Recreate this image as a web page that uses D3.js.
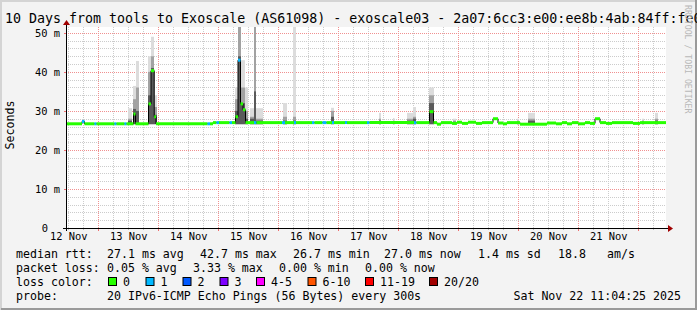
<!DOCTYPE html>
<html>
<head>
<meta charset="utf-8">
<script src="https://cdn.jsdelivr.net/npm/d3@7"></script>
<style>
body { margin: 0; background: #f3f3f3; }
svg { display: block; }
text { font-family: "DejaVu Sans Mono", monospace; fill: #000; }
</style>
</head>
<body>
<div id="chart"></div>
<script>
// window: 10 days ending Sat Nov 22 11:04:25 2025
const startMs = Date.UTC(2025, 10, 12, 11, 4, 25);
const spanHours = 240;

// median rtt, step series: hours since window start, ms, lost pings (of 20)
const medianHour = [0, 6.4, 7.4, 11.4, 12.2, 19.4, 20.2, 23.4, 24.2, 27.0, 27.8, 33.0, 34.0, 35.3, 36.0,
  56.6, 57.6, 58.8, 60.2, 61.2, 65.4, 66.4, 67.8, 68.8, 69.8, 70.8, 71.8, 75.2, 76.2, 86.4, 87.6,
  91.2, 92.0, 98.4, 99.4, 102.6, 104.2, 106.4, 107.2, 111.6, 112.4, 120.4, 121.4, 139.2, 140.2,
  145.4, 147.0, 148.4, 150.0, 154.4, 156.4, 158.4, 160.8, 164.0, 166.4, 170.8, 172.8, 174.8, 176.4,
  181.6, 192.4, 196.0, 198.4, 200.4, 202.4, 204.8, 207.6, 209.6, 211.6, 213.6, 216.0, 218.4, 226.8, 229.6];
const medianMs = [26.7, 27.3, 26.7, 26.7, 26.7, 26.7, 26.7, 26.7, 26.7, 29.2, 26.7, 31.8, 40.3, 28.5, 26.7,
  26.7, 26.7, 27.0, 27.0, 27.0, 27.0, 27.0, 28.5, 43.0, 31.8, 30.3, 27.0, 27.0, 27.0, 27.0, 27.0,
  27.0, 27.0, 27.0, 27.0, 27.0, 27.0, 27.0, 27.0, 27.0, 27.0, 27.0, 27.0, 27.0, 27.0,
  29.8, 27.0, 26.6, 27.0, 26.8, 27.1, 26.8, 27.1, 26.8, 27.0, 28.0, 26.9, 26.7, 27.0,
  26.6, 26.9, 26.7, 27.0, 26.7, 27.0, 26.7, 27.0, 26.8, 28.0, 27.0, 26.8, 27.0, 26.8, 27.0];
const medianLoss = [0, 1, 0, 1, 0, 1, 0, 1, 0, 0, 0, 0, 0, 0, 0,
  1, 0, 0, 1, 0, 1, 0, 0, 1, 0, 0, 0, 1, 0, 1, 0,
  1, 0, 1, 0, 1, 0, 1, 0, 1, 0, 1, 0, 1, 0,
  0, 0, 0, 0, 0, 0, 0, 0, 0, 0, 0, 0, 0, 0,
  0, 0, 0, 0, 0, 0, 0, 0, 0, 0, 0, 0, 0, 0, 0];

// smoke: time span (hours), max ping, top of medium band, top of dense band (ms)
const smokeFrom = [24.8, 26.8, 28.0, 32.8, 34.0, 35.2, 67.6, 68.8, 70.0, 71.6, 73.6, 75.2, 76.0,
  86.8, 90.8, 106.0, 125.2, 130.8, 136.4, 138.8, 145.2, 154.8, 180.4, 184.8, 230.4, 235.6];
const smokeTo = [26.4, 28.0, 29.2, 34.0, 35.2, 36.4, 68.8, 70.0, 71.6, 72.8, 75.2, 76.0, 78.8,
  88.4, 92.0, 107.2, 126.0, 131.4, 138.8, 140.0, 147.2, 156.0, 181.2, 187.6, 231.2, 236.8];
const smokeMax = [30.7, 36.4, 42.8, 44.0, 49.0, 34.0, 36.0, 52.0, 43.0, 36.0, 30.7, 52.0, 30.7,
  32.0, 52.0, 30.8, 29.5, 28.2, 29.5, 31.0, 36.0, 28.0, 28.0, 29.5, 28.0, 29.5];
const smokeMid = [28.0, 33.0, 36.0, 40.0, 44.0, 31.0, 33.0, 52.0, 36.0, 30.0, 28.5, 52.0, 28.0,
  28.5, 28.5, 30.0, 28.0, 27.5, 28.0, 28.5, 34.0, 27.5, 27.5, 28.0, 27.5, 28.0];
const smokeCore = [27.5, 30.5, 30.0, 34.0, 41.0, 29.0, 30.0, 44.0, 32.0, 28.0, 28.0, 35.0, 27.5,
  27.5, 27.5, 28.5, 27.5, 27.2, 27.5, 28.0, 32.0, 27.2, 27.2, 27.5, 27.2, 27.5];

const yTicks = [0, 10, 20, 30, 40, 50];
const lossLabels = ["0", "1", "2", "3", "4-5", "6-10", "11-19", "20/20"];
const lossColors = ["#26ff00", "#00b8ff", "#0059ff", "#7e00ff", "#ff00ff", "#ff5500", "#ff0000", "#a10000"];
const rttStats = [27.1, 42.7, 26.7, 27.0, 1.4, 18.8];   // avg, max, min, now, sd, am/s
const lossStats = [0.05, 3.33, 0.00, 0.00];             // avg, max, min, now

const W = 697, H = 310;
const plotL = 66, plotR = 666, plotT = 27, plotB = 228;

const hourToDate = h => new Date(startMs + h * 3600e3);
const endDate = hourToDate(spanHours);

const x = d3.scaleUtc().domain([hourToDate(0), endDate]).range([plotL, plotR]);
const y = d3.scaleLinear().domain([0, 51.5]).range([plotB, plotT]);

const svg = d3.select("#chart").append("svg")
  .attr("width", W).attr("height", H);

// background + frame
svg.append("rect").attr("width", W).attr("height", H).attr("fill", "#f3f3f3");
svg.append("path").attr("d", `M1,${H} V1 H${W}`).attr("fill", "none").attr("stroke", "#d4d4d4").attr("stroke-width", 2);
svg.append("path").attr("d", `M1,${H - 1} H${W - 1} V0`).attr("fill", "none").attr("stroke", "#9a9a9a").attr("stroke-width", 2);
svg.append("rect").attr("x", plotL).attr("y", plotT).attr("width", plotR - plotL).attr("height", plotB - plotT).attr("fill", "#fff");

// grid
const grid = svg.append("g");
const minorY = d3.range(2, 52, 2).filter(v => v % 10 !== 0);
grid.selectAll(".gy").data(minorY).enter().append("line")
  .attr("x1", plotL).attr("x2", plotR)
  .attr("y1", d => Math.round(y(d)) + 0.5).attr("y2", d => Math.round(y(d)) + 0.5)
  .attr("stroke", "#cccccc").attr("stroke-dasharray", "1,1");
const hours6 = d3.utcHour.every(6).range(hourToDate(0), endDate).filter(d => d.getUTCHours() !== 0);
grid.selectAll(".gx").data(hours6).enter().append("line")
  .attr("y1", plotT).attr("y2", plotB)
  .attr("x1", d => Math.round(x(d)) + 0.5).attr("x2", d => Math.round(x(d)) + 0.5)
  .attr("stroke", "#cccccc").attr("stroke-dasharray", "1,1");
grid.selectAll(".my").data(yTicks.slice(1)).enter().append("line")
  .attr("x1", plotL).attr("x2", plotR)
  .attr("y1", d => Math.round(y(d)) + 0.5).attr("y2", d => Math.round(y(d)) + 0.5)
  .attr("stroke", "#f09090").attr("stroke-dasharray", "1,1");
const days = d3.utcDay.range(hourToDate(0), endDate);
grid.selectAll(".mx").data(days).enter().append("line")
  .attr("y1", plotT).attr("y2", plotB)
  .attr("x1", d => Math.round(x(d)) + 0.5).attr("x2", d => Math.round(x(d)) + 0.5)
  .attr("stroke", "#f09090").attr("stroke-dasharray", "1,1");

// smoke
const smoke = smokeFrom.map((f, i) => ({
  x0: x(hourToDate(f)), x1: x(hourToDate(smokeTo[i])),
  max: smokeMax[i], mid: smokeMid[i], core: smokeCore[i]
}));
const smokeBase = 26.6;
const bands = [["max", "#dcdcdc"], ["mid", "#a2a2a2"], ["core", "#5a5a5a"]];
bands.forEach(([key, col]) => {
  svg.append("g").selectAll("rect").data(smoke).enter().append("rect")
    .attr("x", d => d.x0)
    .attr("width", d => Math.max(1, d.x1 - d.x0))
    .attr("y", d => Math.max(plotT, y(d[key])))
    .attr("height", d => y(smokeBase) - Math.max(plotT, y(d[key])))
    .attr("fill", col);
});

// median line
const med = medianHour.map((h, i) => ({
  t0: hourToDate(h),
  t1: hourToDate(i + 1 < medianHour.length ? medianHour[i + 1] : spanHours),
  v: medianMs[i], loss: medianLoss[i]
}));
const line = d3.line().x(d => x(d.t0)).y(d => y(d.v)).curve(d3.curveStepAfter);
svg.append("path")
  .datum(med.concat([{ t0: endDate, v: medianMs[medianMs.length - 1] }]))
  .attr("d", line).attr("fill", "none").attr("stroke", "#000").attr("stroke-width", 1);
svg.append("g").selectAll("line").data(med).enter().append("line")
  .attr("x1", d => x(d.t0)).attr("x2", d => x(d.t1))
  .attr("y1", d => y(d.v)).attr("y2", d => y(d.v))
  .attr("stroke", d => lossColors[d.loss]).attr("stroke-width", 3);

// axes (labels via d3 axes, lines drawn rrdtool style)
const noons = [d3.utcDay.floor(hourToDate(0))].concat(days).map(d => d3.utcHour.offset(d, 12))
  .filter(d => d >= hourToDate(0) && d <= endDate);
const xAxis = svg.append("g").attr("transform", `translate(0,${plotB})`)
  .call(d3.axisBottom(x).tickValues(noons).tickSize(0).tickPadding(5).tickFormat(d3.utcFormat("%d Nov")));
xAxis.select(".domain").remove();
xAxis.selectAll("text").attr("font-family", "DejaVu Sans Mono").attr("font-size", 10.4).attr("fill", "#000");

const yAxis = svg.append("g").attr("transform", `translate(${plotL},0)`)
  .call(d3.axisLeft(y).tickValues(yTicks).tickSize(0).tickPadding(6).tickFormat(d => d ? d + " m" : "0"));
yAxis.select(".domain").remove();
yAxis.selectAll("text").attr("font-family", "DejaVu Sans Mono").attr("font-size", 10.4).attr("fill", "#000")
  .attr("dx", d => d ? 0 : -12);

// tick marks
svg.append("g").selectAll("line").data(days).enter().append("line")
  .attr("x1", d => Math.round(x(d)) + 0.5).attr("x2", d => Math.round(x(d)) + 0.5)
  .attr("y1", plotB).attr("y2", plotB + 3).attr("stroke", "#f07070");
svg.append("g").selectAll("line").data(hours6).enter().append("line")
  .attr("x1", d => Math.round(x(d)) + 0.5).attr("x2", d => Math.round(x(d)) + 0.5)
  .attr("y1", plotB).attr("y2", plotB + 2).attr("stroke", "#bbbbbb");
svg.append("g").selectAll("line").data(yTicks).enter().append("line")
  .attr("x1", plotL - 2).attr("x2", plotL)
  .attr("y1", d => Math.round(y(d)) + 0.5).attr("y2", d => Math.round(y(d)) + 0.5)
  .attr("stroke", "#f07070");

svg.append("line").attr("x1", plotL - 3).attr("x2", plotR + 3)
  .attr("y1", plotB + 0.5).attr("y2", plotB + 0.5).attr("stroke", "#000");
svg.append("line").attr("x1", plotL + 0.5).attr("x2", plotL + 0.5)
  .attr("y1", plotB + 3).attr("y2", plotT - 3).attr("stroke", "#000");
svg.append("path").attr("d", `M${plotR + 2},${plotB - 3} L${plotR + 7},${plotB + 0.5} L${plotR + 2},${plotB + 4} Z`).attr("fill", "#a00000");
svg.append("path").attr("d", `M${plotL - 3},${plotT - 2} L${plotL + 0.5},${plotT - 7} L${plotL + 4},${plotT - 2} Z`).attr("fill", "#a00000");

// titles
svg.append("text").attr("x", 5).attr("y", 23).attr("font-size", 13.3)
  .text("10 Days from tools to Exoscale (AS61098) - exoscale03 - 2a07:6cc3:e00:ee8b:4ab:84ff:fe0");
svg.append("text").attr("transform", "translate(14,125) rotate(-90)").attr("text-anchor", "middle")
  .attr("font-size", 11.6).text("Seconds");
svg.append("text").attr("transform", "translate(685,5) rotate(90)").attr("font-size", 8.2)
  .style("fill", "#b8b8b8").text("RRDTOOL / TOBI OETIKER");

// legend
const leg = svg.append("g").attr("font-size", 11.6);
const put = (s, px, py) => leg.append("text").attr("x", px).attr("y", py).text(s);
put("median rtt:", 16, 258);
put(`${rttStats[0].toFixed(1)} ms avg`, 107, 258);
put(`${rttStats[1].toFixed(1)} ms max`, 200, 258);
put(`${rttStats[2].toFixed(1)} ms min`, 293, 258);
put(`${rttStats[3].toFixed(1)} ms now`, 384, 258);
put(`${rttStats[4].toFixed(1)} ms sd`, 478, 258);
put(`${rttStats[5].toFixed(1)}`, 558, 258);
put("am/s", 607, 258);
put("packet loss:", 16, 272);
put(`${lossStats[0].toFixed(2)} % avg`, 107, 272);
put(`${lossStats[1].toFixed(2)} % max`, 193, 272);
put(`${lossStats[2].toFixed(2)} % min`, 279, 272);
put(`${lossStats[3].toFixed(2)} % now`, 365, 272);
put("loss color:", 16, 286);
const boxX = [108, 145.5, 182.5, 219.5, 256, 307.5, 365, 429];
lossLabels.forEach((l, i) => {
  leg.append("rect").attr("x", boxX[i] + 0.5).attr("y", 277.5).attr("width", 8).attr("height", 8)
    .attr("fill", lossColors[i]).attr("stroke", "#000");
  put(l, boxX[i] + 15, 286);
});
put("probe:", 16, 300);
put("20 IPv6-ICMP Echo Pings (56 Bytes) every 300s", 107, 300);
put("Sat Nov 22 11:04:25 2025", 681, 300).attr("text-anchor", "end");
</script>
</body>
</html>
